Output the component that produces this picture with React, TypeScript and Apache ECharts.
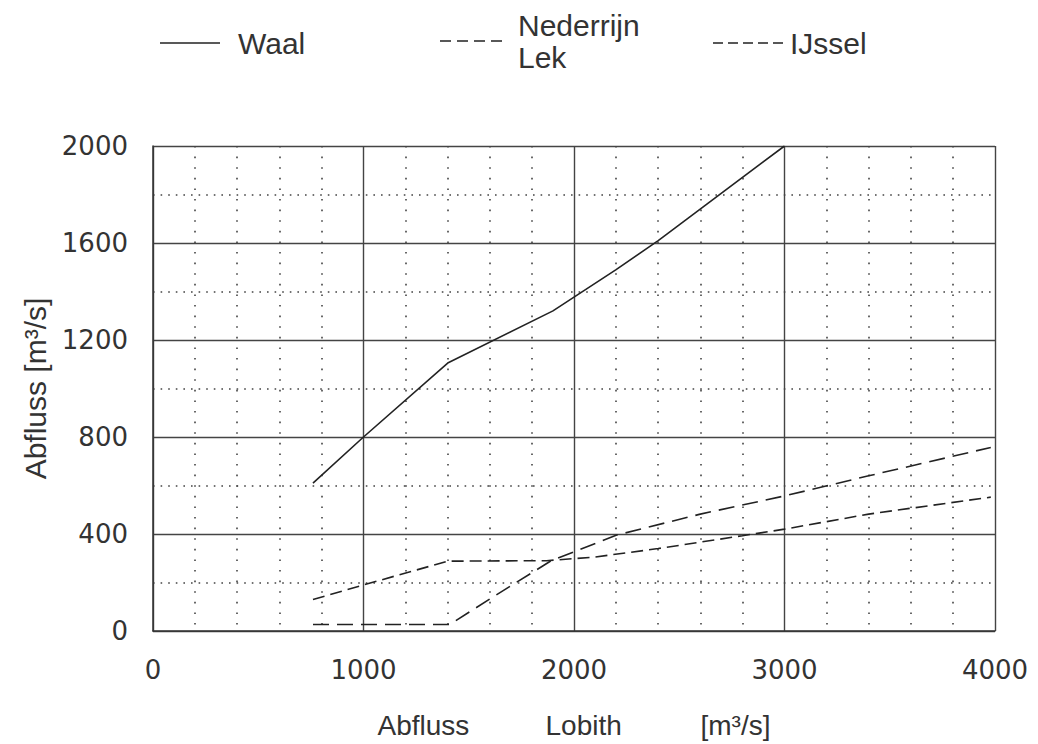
import React, { useEffect, useRef } from "react";
import * as echarts from "echarts";

const waal: [number, number][] = [
  [760, 610], [1000, 800], [1400, 1105], [1900, 1320], [2200, 1490], [2400, 1610], [3000, 2000],
];
const nederrijnLek: [number, number][] = [
  [760, 27], [1410, 27], [1600, 132], [1890, 289], [2200, 395], [2600, 482], [3000, 557], [3400, 640], [3980, 757],
];
const ijssel: [number, number][] = [
  [760, 130], [1000, 190], [1400, 288], [1870, 290], [2100, 305], [2400, 340], [2800, 393], [3000, 420], [3400, 482], [3980, 552],
];

const seriesNames = ["Waal", "Nederrijn Lek", "IJssel"];
const xTitleParts = ["Abfluss", "Lobith", "[m³/s]"];
const yTitle = "Abfluss [m³/s]";

const TEXT = "#333";
const LINE = "#222";
const SANS = "'Liberation Sans', Arial, sans-serif";
const TICKFONT = "'DejaVu Sans', sans-serif";

const ICON_WAAL = "path://M0,0h60v1.5h-60z";
const ICON_NED =
  "path://M0,0h11v1.5h-11zM17,0h11v1.5h-11zM34,0h11v1.5h-11zM51,0h11v1.5h-11z";
const ICON_IJS =
  "path://M0,0h10v1.5h-10zM15,0h10v1.5h-10zM30,0h10v1.5h-10zM45,0h10v1.5h-10zM60,0h10v1.5h-10z";

export default function App() {
  const ref = useRef<HTMLDivElement>(null);
  useEffect(() => {
    if (!ref.current) return;
    const chart = echarts.init(ref.current, null, { renderer: "svg" });
    const legendText = (pad: number) => ({
      color: TEXT,
      fontSize: 30,
      fontFamily: SANS,
      lineHeight: 32,
      padding: [0, 0, 0, pad],
    });
    const legendBase = {
      padding: 0,
      itemHeight: 1.5,
      selectedMode: false,
      itemStyle: { color: LINE, borderWidth: 0 },
    };
    chart.setOption({
      animation: false,
      backgroundColor: "#fff",
      grid: { left: 153, top: 146, width: 842, height: 489, containLabel: false },
      legend: [
        {
          ...legendBase,
          data: [{ name: seriesNames[0], icon: ICON_WAAL }],
          left: 160,
          top: 27,
          itemWidth: 60,
          textStyle: legendText(13),
        },
        {
          ...legendBase,
          data: [{ name: seriesNames[1], icon: ICON_NED }],
          left: 440,
          top: 9,
          itemWidth: 62,
          formatter: (n: string) => n.replace(" ", "\n"),
          textStyle: legendText(11),
        },
        {
          ...legendBase,
          data: [{ name: seriesNames[2], icon: ICON_IJS }],
          left: 713,
          top: 27,
          itemWidth: 70,
          textStyle: legendText(2),
        },
      ],
      xAxis: {
        type: "value",
        min: 0,
        max: 4000,
        interval: 1000,
        name: `{a|${xTitleParts[0]}}{b|${xTitleParts[1]}}{c|${xTitleParts[2]}}`,
        nameLocation: "middle",
        nameGap: 80,
        nameTextStyle: {
          color: TEXT,
          fontSize: 28,
          fontFamily: SANS,
          rich: {
            a: { fontSize: 28, fontFamily: SANS, color: TEXT, width: 168, align: "left" },
            b: { fontSize: 28, fontFamily: SANS, color: TEXT, width: 155, align: "left" },
            c: { fontSize: 28, fontFamily: SANS, color: TEXT, align: "left" },
          },
        },
        axisLine: { show: true, lineStyle: { color: "#333", width: 1.5 } },
        axisTick: { show: false },
        axisLabel: {
          color: TEXT,
          fontSize: 26,
          fontFamily: TICKFONT,
          margin: 26,
          formatter: (v: number) => String(v),
        },
        splitLine: { show: true, lineStyle: { color: "#444", width: 1.4 } },
        minorTick: { show: false, splitNumber: 5 },
        minorSplitLine: { show: true, lineStyle: { color: "#444", width: 1.6, type: [1.6, 9] } },
      },
      yAxis: {
        type: "value",
        min: 0,
        max: 2000,
        interval: 400,
        name: yTitle,
        nameLocation: "middle",
        nameGap: 95,
        nameTextStyle: { color: TEXT, fontSize: 30, fontFamily: SANS },
        axisLine: { show: true, lineStyle: { color: "#333", width: 1.5 } },
        axisTick: { show: false },
        axisLabel: {
          color: TEXT,
          fontSize: 26,
          fontFamily: TICKFONT,
          margin: 25,
          formatter: (v: number) => String(v),
        },
        splitLine: { show: true, lineStyle: { color: "#444", width: 1.4 } },
        minorTick: { show: false, splitNumber: 2 },
        minorSplitLine: { show: true, lineStyle: { color: "#444", width: 1.6, type: [1.6, 6] } },
      },
      series: [
        {
          name: seriesNames[0],
          type: "line",
          data: waal,
          symbol: "none",
          lineStyle: { color: LINE, width: 1.6, type: "solid" },
          itemStyle: { color: LINE },
        },
        {
          name: seriesNames[1],
          type: "line",
          data: nederrijnLek,
          symbol: "none",
          lineStyle: { color: LINE, width: 1.6, type: [16, 8] },
          itemStyle: { color: LINE },
        },
        {
          name: seriesNames[2],
          type: "line",
          data: ijssel,
          symbol: "none",
          lineStyle: { color: LINE, width: 1.6, type: [12, 6] },
          itemStyle: { color: LINE },
        },
      ],
    });
    return () => chart.dispose();
  }, []);
  return (
    <div
      ref={ref}
      style={{ position: "absolute", left: 0, top: 0, width: 1038, height: 744 }}
    />
  );
}
